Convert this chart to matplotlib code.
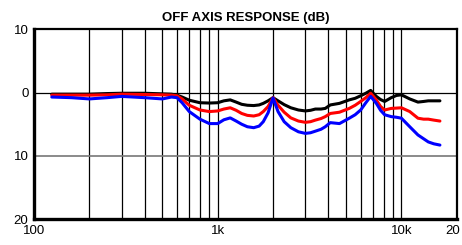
import matplotlib
matplotlib.use("Agg")
import matplotlib.pyplot as plt
from matplotlib.transforms import ScaledTranslation

plt.rcParams['font.family'] = ['Liberation Sans', 'DejaVu Sans']

# frequency points (Hz)
freqs = [125, 160, 200, 250, 300, 400, 500, 560, 600, 640, 700, 800, 900,
         1000, 1080, 1170, 1260, 1350, 1450, 1570, 1680, 1770, 1880, 2000,
         2130, 2300, 2500, 2750, 3000, 3200, 3400, 3650, 3850, 4100, 4600,
         5200, 5600, 6000, 6400, 6800, 7300, 7700, 8100, 8800, 9400, 10000,
         11100, 12300, 13200, 14000, 15000, 16200]

resp_black = [-0.25, -0.25, -0.25, -0.15, -0.1, -0.1, -0.2, -0.25, -0.4, -0.7,
              -1.2, -1.6, -1.65, -1.6, -1.3, -1.15, -1.5, -1.85, -2.0, -2.05,
              -1.95, -1.7, -1.3, -0.8, -1.3, -1.9, -2.4, -2.75, -2.9, -2.8,
              -2.6, -2.6, -2.5, -1.95, -1.7, -1.15, -0.9, -0.5, -0.1, 0.35,
              -0.6, -1.1, -1.4, -0.8, -0.45, -0.35, -1.0, -1.5, -1.4, -1.3,
              -1.3, -1.3]

resp_red = [-0.4, -0.4, -0.4, -0.35, -0.25, -0.3, -0.35, -0.4, -0.5, -1.0,
            -2.0, -2.75, -3.0, -2.9, -2.6, -2.4, -2.8, -3.3, -3.6, -3.7,
            -3.5, -3.0, -2.2, -0.8, -2.0, -3.1, -4.0, -4.5, -4.7, -4.6,
            -4.35, -4.1, -3.8, -3.3, -3.1, -2.5, -2.0, -1.4, -0.8, -0.1,
            -1.15, -2.2, -2.75, -2.5, -2.45, -2.4, -3.0, -4.05, -4.2, -4.2,
            -4.35, -4.5]

resp_blue = [-0.7, -0.8, -1.0, -0.8, -0.6, -0.8, -1.0, -0.7, -0.8, -1.6,
             -3.0, -4.2, -4.9, -4.9, -4.3, -4.0, -4.5, -5.0, -5.4, -5.55,
             -5.3, -4.6, -3.2, -0.85, -3.0, -4.6, -5.55, -6.2, -6.45, -6.35,
             -6.1, -5.8, -5.4, -4.75, -4.9, -4.05, -3.5, -2.75, -1.6, -0.6,
             -1.7, -2.8, -3.5, -3.8, -3.9, -4.05, -5.4, -6.7, -7.3, -7.8,
             -8.1, -8.3]

grid_freqs = [200, 300, 400, 500, 600, 700, 800, 900, 1000,
              2000, 3000, 4000, 5000, 6000, 7000, 8000, 9000, 10000]
x_ticks = [100, 1000, 10000, 20000]
x_labels = ["100", "1k", "10k", "20"]
y_ticks = [10, 0, -10, -20]
y_labels = ["10", "0", "10", "20"]

fig = plt.figure(figsize=(4.62, 2.45), dpi=100)
ax = fig.add_axes([0.0736, 0.106, 0.915, 0.774])

for f in grid_freqs:
    ax.axvline(f, color="black", lw=0.9, zorder=1)
ax.axhline(0, color="black", lw=0.9, zorder=1)
ax.axhline(-10, color="#777777", lw=1.2, zorder=1)

line_kw = dict(lw=2.2, solid_joinstyle="round", solid_capstyle="round")
ax.plot(freqs, resp_black, color="black", zorder=3, **line_kw)
ax.plot(freqs, resp_red, color="#ff0000", zorder=4, **line_kw)
ax.plot(freqs, resp_blue, color="#0000ff", zorder=5, **line_kw)

ax.set_xscale("log")
ax.set_xlim(100, 20000)
ax.set_ylim(-20, 10)
ax.set_xticks(x_ticks)
ax.set_xticklabels(x_labels)
ax.set_xticks([], minor=True)
ax.set_yticks(y_ticks)
ax.set_yticklabels(y_labels)
ax.tick_params(length=0, labelsize=9.5, pad=4)

# last label sits right at the edge, nudge it in a little
last = ax.get_xticklabels()[-1]
last.set_transform(last.get_transform() + ScaledTranslation(-3 / 72, 0, fig.dpi_scale_trans))

for side in ["left", "bottom"]:
    ax.spines[side].set_linewidth(2.4)
for side in ["top", "right"]:
    ax.spines[side].set_linewidth(1.6)

ax.set_title("OFF AXIS RESPONSE (dB)", fontsize=9.5, fontweight="bold", pad=6)

fig.savefig("out.png", dpi=100)
